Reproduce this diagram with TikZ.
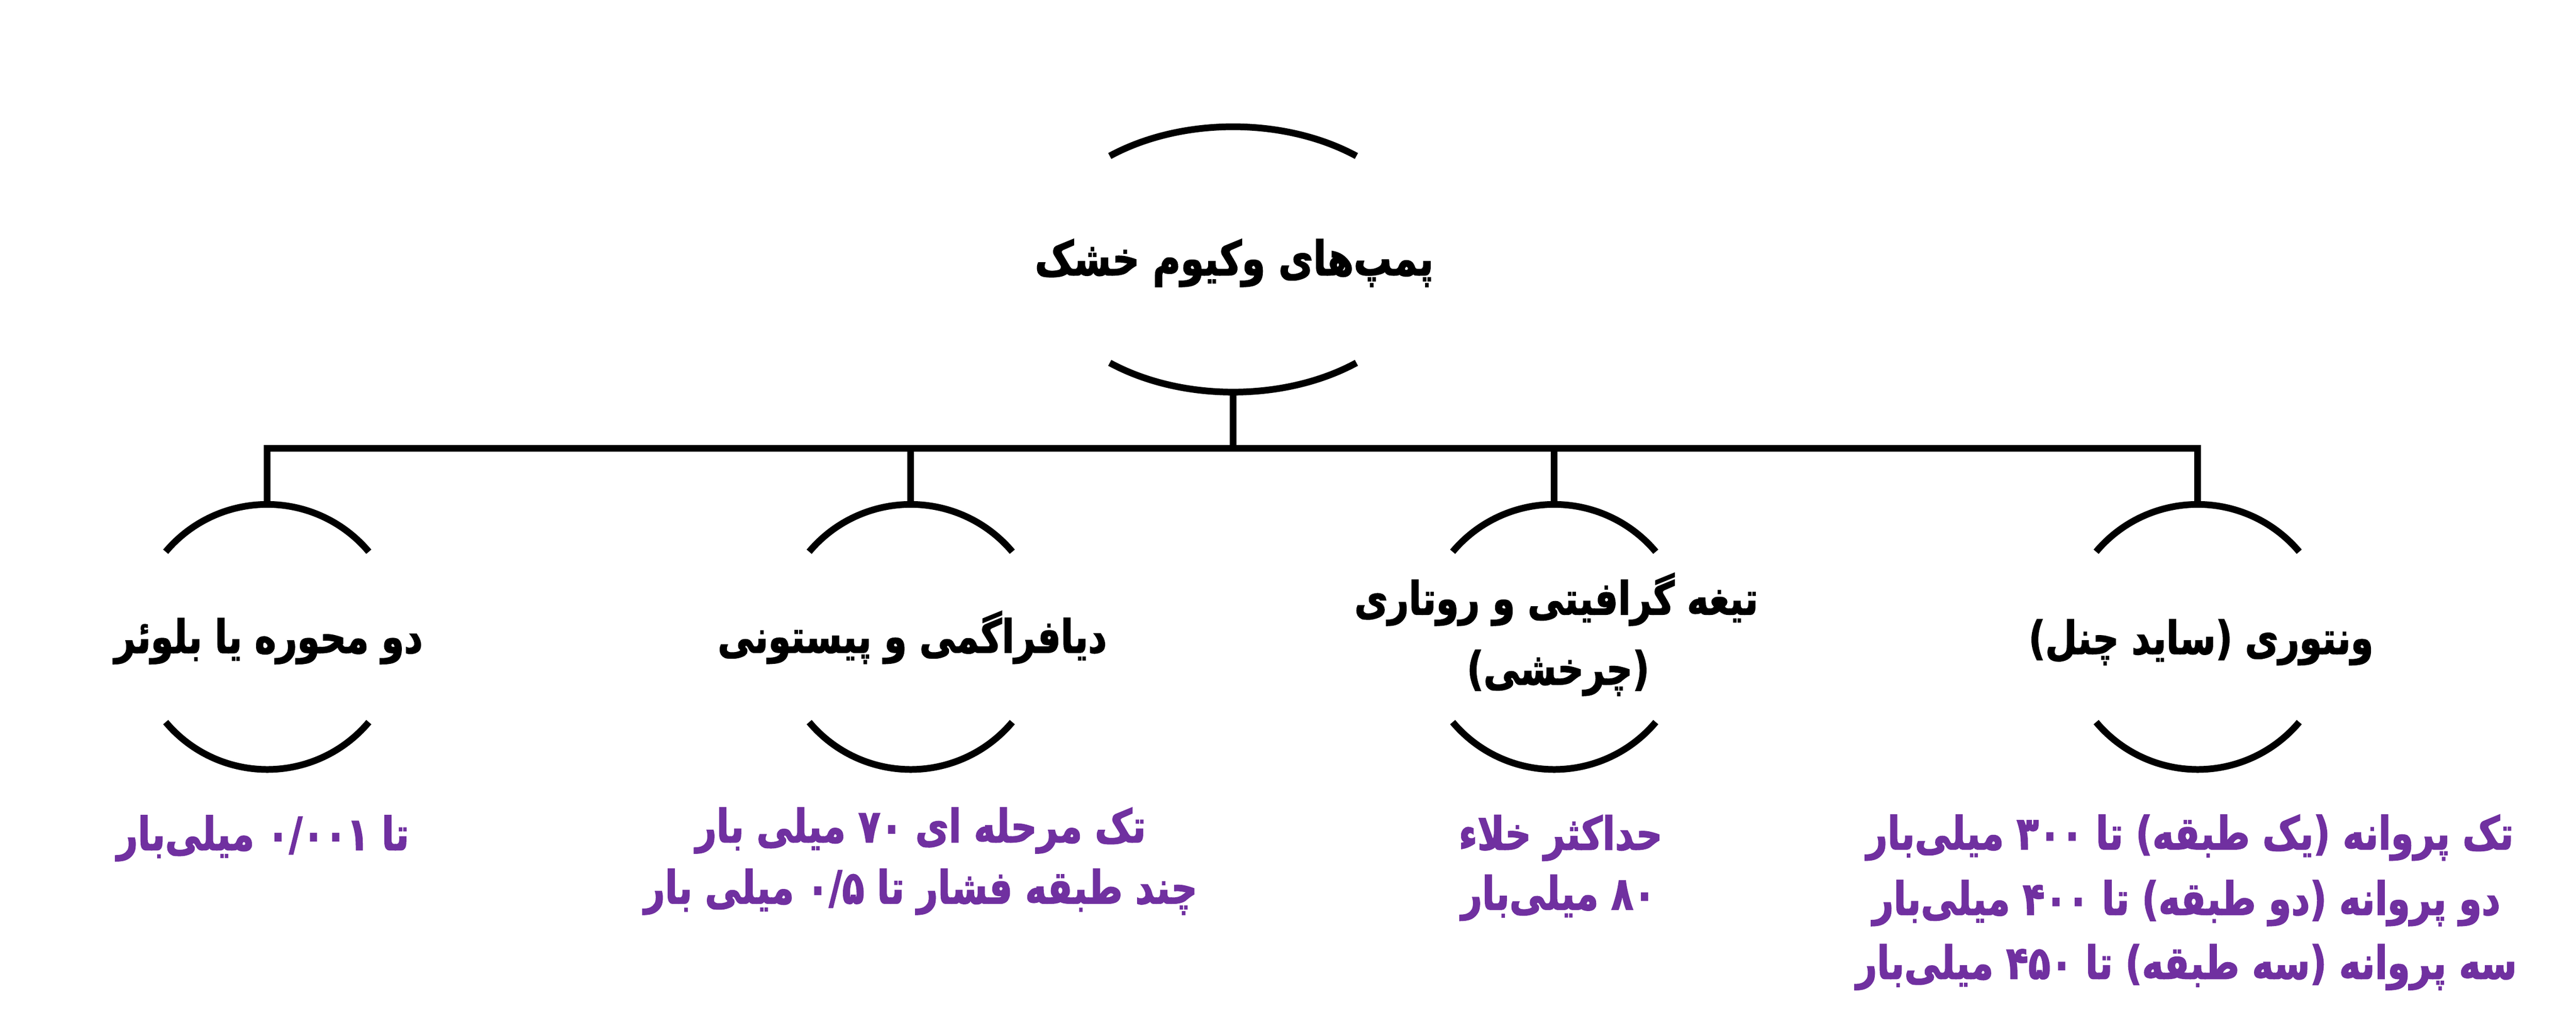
\documentclass[tikz,border=0pt]{standalone}
\usepackage{fontspec}
\TeXXeTstate=1
\newfontfamily\fab[Script=Arabic, FakeStretch=0.795, FakeBold=1.8]{DejaVu Sans Bold}
\definecolor{lblpurple}{RGB}{112,48,160}
\usetikzlibrary{shapes.geometric}
\begin{document}
\begin{tikzpicture}[x=1cm,y=1cm,
  ln/.style={line width=0.19cm},
  ttl/.style={font=\fab\fontsize{37}{42}\selectfont, inner sep=0, outer sep=0, anchor=base},
  bigttl/.style={ttl, font=\fab\fontsize{38.5}{44}\selectfont},
  val/.style={ttl, text=lblpurple},
  hub/.style={circle, minimum size=7.53cm, inner sep=0, outer sep=0},
  rootshape/.style={ellipse, minimum width=11.18cm, minimum height=7.54cm, inner sep=0, outer sep=0},
]
\useasboundingbox (0,0) rectangle (73.16,-29.20);

% shapes
\node[rootshape] (root) at (35.02,-7.37) {};
\node[hub] (c1) at (7.59,-18.095) {};
\node[hub] (c2) at (25.865,-18.095) {};
\node[hub] (c3) at (44.14,-18.095) {};
\node[hub] (c4) at (62.415,-18.095) {};

% arcs
\draw[ln] ([shift={(51.2:5.59cm and 3.77cm)}]root.center) arc[start angle=51.2, end angle=128.8, x radius=5.59cm, y radius=3.77cm];
\draw[ln] ([shift={(231.2:5.59cm and 3.77cm)}]root.center) arc[start angle=231.2, end angle=308.8, x radius=5.59cm, y radius=3.77cm];
\foreach \n in {c1,c2,c3,c4}{
  \draw[ln] (\n.40) arc[start angle=40, end angle=140, radius=3.765cm];
  \draw[ln] (\n.220) arc[start angle=220, end angle=320, radius=3.765cm];
}

% connectors
\coordinate (bus) at (35.02,-12.73);
\draw[ln] (root.south) -- (bus);
\draw[ln] (c1.north) |- (bus) -| (c4.north);
\draw[ln] (c2.north) -- (c2.north |- bus);
\draw[ln] (c3.north) -- (c3.north |- bus);

% titles
\node[bigttl] (roott) at (35.05,-7.82) {\beginR پمپ‌های وکیوم خشک\endR};
\node[ttl] (c1t) at (7.63,-18.55) {\beginR دو محوره یا بلوئر\endR};
\node[ttl] (c2t) at (25.91,-18.54) {\beginR دیافراگمی و پیستونی\endR};
\node[ttl] (c3t1) at (44.20,-17.46) {\beginR تیغه گرافیتی و روتاری\endR};
\node[ttl] (c3t2) at (44.25,-19.45) {\beginR (چرخشی)\endR};
\node[ttl] (c4t) at (62.51,-18.58) {\beginR ونتوری (ساید چنل)\endR};

% values
\node[val] (c1v) at (7.47,-24.15) {\beginR تا \beginL۰/۰۰۱\endL{} میلی‌بار\endR};
\node[val] (c2v1) at (26.15,-23.93) {\beginR تک مرحله ای \beginL۷۰\endL{} میلی بار\endR};
\node[val] (c2v2) at (26.15,-25.67) {\beginR چند طبقه فشار تا \beginL۰/۵\endL{} میلی بار\endR};
\node[val] (c3v1) at (44.32,-24.14) {\beginR حداکثر خلاء\endR};
\node[val] (c3v2) at (44.26,-25.84) {\beginR \beginL۸۰\endL{} میلی‌بار\endR};
\node[val] (c4v1) at (62.20,-24.13) {\beginR تک پروانه (یک طبقه) تا \beginL۳۰۰\endL{} میلی‌بار\endR};
\node[val] (c4v2) at (62.10,-25.99) {\beginR دو پروانه (دو طبقه) تا \beginL۴۰۰\endL{} میلی‌بار\endR};
\node[val] (c4v3) at (62.10,-27.81) {\beginR سه پروانه (سه طبقه) تا \beginL۴۵۰\endL{} میلی‌بار\endR};
\end{tikzpicture}
\end{document}
